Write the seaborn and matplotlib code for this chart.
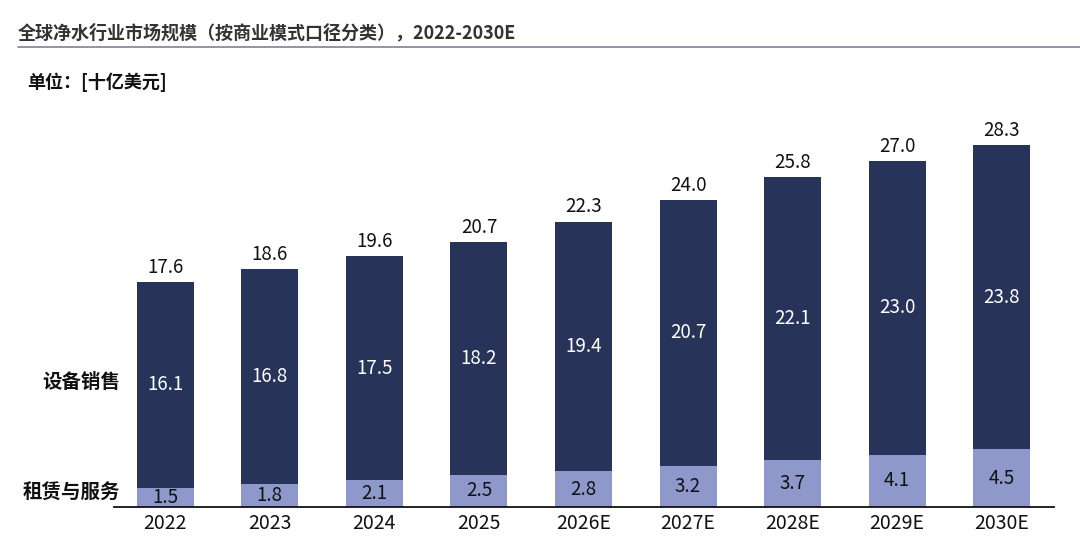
import matplotlib
matplotlib.use("Agg")
import matplotlib.pyplot as plt
import seaborn as sns
import pandas as pd

years = ["2022", "2023", "2024", "2025", "2026E", "2027E", "2028E", "2029E", "2030E"]
equipment_sales = [16.1, 16.8, 17.5, 18.2, 19.4, 20.7, 22.1, 23.0, 23.8]
rental_service = [1.5, 1.8, 2.1, 2.5, 2.8, 3.2, 3.7, 4.1, 4.5]
totals = [17.6, 18.6, 19.6, 20.7, 22.3, 24.0, 25.8, 27.0, 28.3]

title = "全球净水行业市场规模（按商业模式口径分类），2022-2030E"
unit = "单位：[十亿美元]"
series_names = ["设备销售", "租赁与服务"]

DARK = "#28335a"
LIGHT = "#8f98cb"

sns.set_theme(style="white")
plt.rcParams["font.family"] = ["Noto Sans CJK SC", "DejaVu Sans"]

df = pd.DataFrame({"year": years, "equip": equipment_sales,
                   "rent": rental_service, "total": totals})

fig = plt.figure(figsize=(10.8, 5.44), dpi=100)
ax = fig.add_axes([114 / 1080, 37 / 544, (1054 - 114) / 1080, 384 / 544])

sns.barplot(data=df, x="year", y="total", color=DARK, width=0.545,
            saturation=1, ax=ax, order=years, linewidth=0, edgecolor="none")
sns.barplot(data=df, x="year", y="rent", color=LIGHT, width=0.545,
            saturation=1, ax=ax, order=years, linewidth=0, edgecolor="none")

ax.set_ylim(0, 30)
ax.set_xlim(-0.49, 8.5)

for i, (e, r, t) in enumerate(zip(equipment_sales, rental_service, totals)):
    ax.text(i, r / 2, f"{r:.1f}", ha="center", va="center", fontsize=13.5,
            color="#111111")
    ax.text(i, r + (t - r) / 2, f"{e:.1f}", ha="center", va="center",
            fontsize=13.5, color="white")
    ax.annotate(f"{t:.1f}", (i, t), xytext=(0, 3), textcoords="offset points",
                ha="center", va="bottom", fontsize=13.5, color="#111111")

ax.set_xlabel("")
ax.set_ylabel("")
ax.set_yticks([])
for s in ["top", "right", "left"]:
    ax.spines[s].set_visible(False)
ax.spines["bottom"].set_color("#111111")
ax.spines["bottom"].set_linewidth(1.3)
ax.tick_params(axis="x", length=0, pad=4, labelsize=14, labelcolor="#111111")

# series labels at left
fig.text(120 / 1080, 1 - 383 / 544, series_names[0], ha="right", va="center",
         fontsize=14, fontweight="bold", color="#111111")
fig.text(120 / 1080, 1 - 493 / 544, series_names[1], ha="right", va="center",
         fontsize=14, fontweight="bold", color="#111111")

# title and unit
fig.text(18 / 1080, 1 - 33 / 544, title, ha="left", va="center",
         fontsize=13, fontweight="bold", color="#333333")
fig.add_artist(plt.Line2D([18 / 1080, 1.0], [1 - 47 / 544, 1 - 47 / 544],
                          color="#8a8ca0", linewidth=1.3,
                          transform=fig.transFigure))
fig.text(27 / 1080, 1 - 82 / 544, unit, ha="left", va="center",
         fontsize=13, fontweight="bold", color="#111111")

fig.savefig("out.png", dpi=100, facecolor="white")
